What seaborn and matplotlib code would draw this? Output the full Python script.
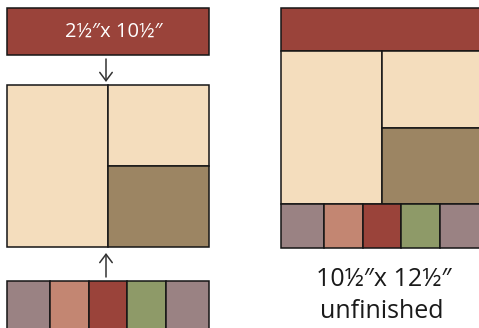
import matplotlib
matplotlib.use("Agg")
import matplotlib.pyplot as plt
import seaborn as sns

# ---- data -------------------------------------------------------------
top_strip_color = "#9a433a"
top_strip_label = "2½″x 10½″"
center_colors = ["#f4ddbd", "#f4ddbd", "#9c8563"]   # tall left, upper right, lower right
strip_colors = ["#9a8283", "#c38672", "#9a433a", "#8e9a68", "#9a8283"]
strip_widths = [2.25, 2.0, 2.0, 2.0, 2.25]           # relative widths of bottom strip pieces
block_label = ["10½″x 12½″", "unfinished"]

# ---- drawing ----------------------------------------------------------
sns.set_style("white")
plt.rcParams["font.family"] = ["Open Sans", "DejaVu Sans"]

fig = plt.figure(figsize=(4.79, 3.28), dpi=100)
ax = fig.add_axes([0, 0, 1, 1])
ax.set_xlim(0, 479)
ax.set_ylim(328, 0)
ax.axis("off")

EC = "#151515"
LW = 1.1


def rect(x, y, w, h, color):
    ax.bar(x, h, width=w, bottom=y, align="edge", color=color,
           edgecolor=EC, linewidth=LW)


def strips(x0, y0, width, h):
    total = sum(strip_widths)
    x = x0
    for c, sw in zip(strip_colors, strip_widths):
        w = width * sw / total
        rect(x, y0, w, h, c)
        x += w


def center(x0, y0, width, h):
    half_w = width / 2
    rect(x0, y0, half_w, h, center_colors[0])
    rect(x0 + half_w, y0, half_w, h / 2, center_colors[1])
    rect(x0 + half_w, y0 + h / 2, half_w, h / 2, center_colors[2])


# left: exploded view
LX, LW_ = 7, 202
rect(LX, 8, LW_, 47, top_strip_color)
ax.text(LX + LW_ / 2 + 6, 31.5, top_strip_label, color="white", fontsize=14.5,
        ha="center", va="center")
center(LX, 85, LW_, 162)
strips(LX, 281, LW_, 52)

arrow_kw = dict(arrowstyle="->,head_length=0.6,head_width=0.45",
                color="#333333", lw=1.1, shrinkA=0, shrinkB=0)
ax.annotate("", xy=(106, 82), xytext=(106, 59), arrowprops=arrow_kw)
ax.annotate("", xy=(106, 253), xytext=(106, 277), arrowprops=arrow_kw)

# right: assembled block
RX, RW = 281, 202
rect(RX, 8, RW, 43, top_strip_color)
center(RX, 51, RW, 153)
strips(RX, 204, RW, 44)

ax.text(384, 279, block_label[0], color="#1a1a1a", fontsize=18,
        ha="center", va="center")
ax.text(382, 311, block_label[1], color="#1a1a1a", fontsize=18,
        ha="center", va="center")

fig.savefig("out.png", dpi=100)
